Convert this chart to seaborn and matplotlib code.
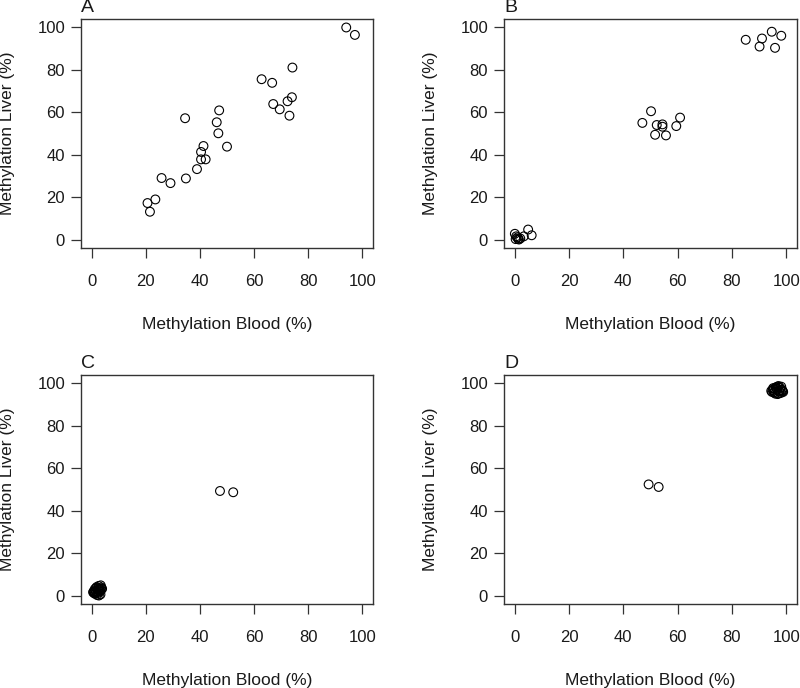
import matplotlib
matplotlib.use('Agg')
import matplotlib.pyplot as plt
import seaborn as sns
import pandas as pd

# panel A
a_blood = [94.1, 97.3, 74.2, 62.8, 66.7, 74.0, 72.4, 67.1, 69.5, 73.1, 47.1, 34.5, 46.2,
           46.8, 50.0, 41.3, 40.4, 40.4, 42.1, 38.9, 34.8, 25.8, 29.1, 23.5, 20.6, 21.5]
a_liver = [100.0, 96.5, 81.1, 75.6, 73.9, 67.1, 65.2, 63.9, 61.4, 58.4, 60.9, 57.2, 55.3,
           50.1, 43.8, 44.1, 41.3, 37.8, 37.8, 33.2, 28.8, 29.0, 26.6, 18.9, 17.2, 13.1]

# panel B
b_blood = [85.1, 91.1, 94.7, 98.2, 90.2, 95.9,
           47.0, 50.2, 52.3, 54.4, 54.4, 51.7, 55.7, 59.5, 60.9,
           0.0, 0.3, 1.0, 1.5, 2.0, 0.5, 3.3, 4.9, 6.2, 1.2]
b_liver = [94.2, 94.8, 98.0, 96.1, 91.0, 90.4,
           55.0, 60.5, 54.0, 54.3, 53.2, 49.4, 49.1, 53.5, 57.5,
           2.7, 0.2, 1.0, 0.0, 0.5, 1.5, 1.5, 4.7, 2.0, 0.3]

# panel C
c_blood = [47.4, 52.3,
           0.5, 1.0, 1.5, 2.0, 2.5, 3.0, 3.5, 1.2, 2.2, 3.2, 0.8, 1.8, 2.8,
           3.6, 1.4, 2.4, 3.3, 0.6, 2.0, 2.9, 1.6, 3.1, 2.6, 1.1, 3.8]
c_liver = [49.3, 48.7,
           1.5, 2.0, 3.5, 1.0, 4.5, 2.5, 3.8, 0.8, 2.8, 0.5, 1.2, 4.0, 1.8,
           3.0, 2.2, 3.5, 4.8, 1.8, 0.2, 3.2, 1.5, 2.0, 0.0, 3.0, 3.2]

# panel D
d_blood = [49.3, 53.0,
           94.5, 95.2, 96.0, 96.8, 97.5, 98.3, 98.9, 95.5, 96.5, 97.2, 98.0, 95.0, 96.2,
           97.8, 98.6, 95.8, 97.0, 96.6, 94.8, 98.2, 97.4, 95.4, 96.9, 98.7, 96.3]
d_liver = [52.4, 51.2,
           96.5, 97.8, 95.2, 98.5, 96.2, 97.0, 96.0, 95.8, 97.5, 98.8, 95.5, 96.9, 98.2,
           97.9, 96.8, 96.0, 95.3, 97.2, 96.0, 98.5, 96.5, 97.4, 95.0, 96.3, 98.0]

panels = {'A': (a_blood, a_liver),
          'B': (b_blood, b_liver),
          'C': (c_blood, c_liver),
          'D': (d_blood, d_liver)}

ticks = [0, 20, 40, 60, 80, 100]

sns.set_style('ticks')
plt.rcParams['font.family'] = ['Liberation Sans', 'DejaVu Sans']

fig = plt.figure(figsize=(8, 6.88), dpi=100)
W, H = 800, 688
# box positions in pixels: left, top, right, bottom
boxes = {'A': (81, 19, 373, 248),
         'B': (504, 19, 797, 248),
         'C': (81, 375, 373, 604),
         'D': (504, 375, 797, 604)}

for name, (blood, liver) in panels.items():
    l, t, r, b = boxes[name]
    ax = fig.add_axes([l / W, 1 - b / H, (r - l) / W, (b - t) / H])
    df = pd.DataFrame({'blood': blood, 'liver': liver})
    sns.scatterplot(data=df, x='blood', y='liver', ax=ax, color='black',
                    facecolor='none', edgecolor='black', linewidth=0.8, s=40,
                    marker='o', clip_on=False)
    ax.set_xlim(-4, 104)
    ax.set_ylim(-4, 104)
    ax.set_xticks(ticks)
    ax.set_yticks(ticks)
    for sp in ax.spines.values():
        sp.set_visible(True)
        sp.set_color('#333333')
        sp.set_linewidth(1.0)
    ax.tick_params(direction='out', length=7.5, width=0.9, color='#333333',
                   labelsize=12, labelcolor='#1a1a1a')
    ax.tick_params(axis='x', pad=11)
    ax.tick_params(axis='y', pad=4)
    ax.set_xlabel('Methylation Blood (%)', fontsize=12.5, color='#1a1a1a')
    ax.set_ylabel('Methylation Liver (%)', fontsize=12.5, color='#1a1a1a')
    ax.xaxis.set_label_coords(0.5, -77 / (b - t))
    ax.xaxis.label.set_verticalalignment('center')
    ax.yaxis.set_label_coords(-73 / (r - l), 0.5)
    ax.yaxis.label.set_verticalalignment('center')
    ax.text(0, 1.015, name, transform=ax.transAxes, ha='left', va='bottom',
            fontsize=14, color='#1a1a1a')

fig.savefig('out.png', dpi=100)
